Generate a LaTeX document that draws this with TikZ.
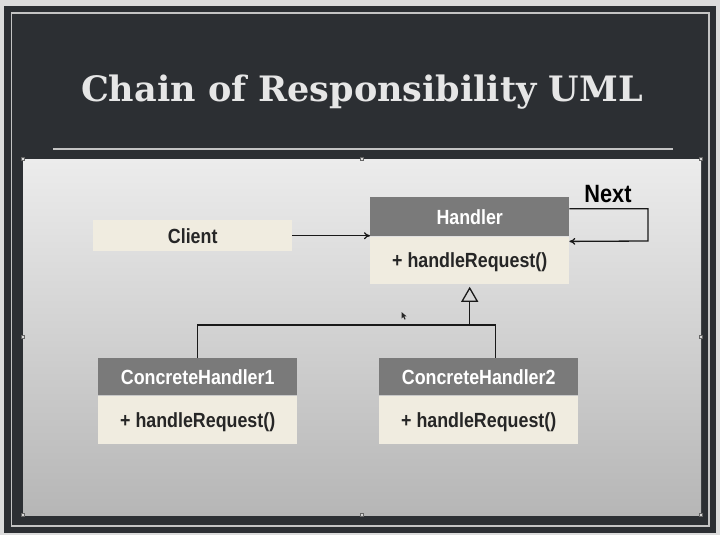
\documentclass[tikz,border=0pt]{standalone}
\usepackage{fontspec}
\usetikzlibrary{arrows.meta}
\newfontfamily\boxfont{Liberation Sans}[FakeStretch=0.87]
\newfontfamily\titlefont{DejaVu Serif}

\definecolor{outerbg}{HTML}{DCDCDC}
\definecolor{board}{HTML}{2C2F33}
\definecolor{chalk}{HTML}{C4C4C4}
\definecolor{titlecol}{HTML}{E6E6E6}
\definecolor{paneltop}{HTML}{ECECEC}
\definecolor{panelbot}{HTML}{B6B6B6}
\definecolor{hdrgray}{HTML}{7A7A7A}
\definecolor{beige}{HTML}{F0ECE0}
\definecolor{inkdark}{HTML}{262626}

\tikzset{
  hdr/.style={fill=hdrgray, text=white, anchor=north west, inner sep=0pt,
    minimum width=199pt, text height=17pt, text depth=2pt,
    font=\boxfont\bfseries\fontsize{20.5}{22}\selectfont},
  bodybox/.style={fill=beige, text=inkdark, anchor=north west, inner sep=0pt,
    minimum width=199pt, text height=17pt, text depth=2pt,
    font=\boxfont\bfseries\fontsize{20.5}{22}\selectfont},
  conn/.style={draw=black!90, line width=1.3pt},
  nextlbl/.style={text=black, inner sep=0pt, font=\boxfont\bfseries\fontsize{25}{27}\selectfont},
  handle/.style={fill=white!85!black, draw=black!60, line width=0.4pt},
}

\begin{document}
\begin{tikzpicture}[x=1pt, y=-1pt]
  \useasboundingbox (0,0) rectangle (720,535);

  % chalkboard slide frame
  \fill[outerbg] (0,0) rectangle (720,535);
  \fill[board] (4,6) rectangle (716,533);
  \draw[chalk, line width=1.5pt] (11.5,13) rectangle (709,526);

  % title and rule
  \node[text=titlecol, anchor=base, inner sep=0pt,
        font=\titlefont\bfseries\fontsize{35}{37}\selectfont] (title) at (362,101)
        {Chain of Responsibility UML};
  \draw[chalk, line width=2pt] (53,149) -- (673,149);

  % content panel
  \shade[top color=paneltop, bottom color=panelbot] (23,159) rectangle (701,515);
  \foreach \hx/\hy in {23/159, 362/159, 701/159, 23/337, 701/337, 23/515, 362/515, 701/515}
    \draw[handle] (\hx-1.6,\hy-1.6) rectangle (\hx+1.6,\hy+1.6);

  % client
  \node[bodybox, minimum height=31pt, text height=18pt, text depth=2pt] (client) at (93,220) {Client};

  % handler class
  \node[hdr, minimum height=39pt] (handlerH) at (370,197) {Handler};
  \node[bodybox, minimum height=47pt] (handlerB) at (handlerH.south west) {+ handleRequest()};

  % concrete handlers
  \node[hdr, minimum height=37pt] (ch1H) at (98,358) {ConcreteHandler1};
  \node[bodybox, minimum height=48pt] (ch1B) at (ch1H.south west) {+ handleRequest()};
  \node[hdr, minimum height=37pt] (ch2H) at (379,358) {ConcreteHandler2};
  \node[bodybox, minimum height=48pt] (ch2B) at (ch2H.south west) {+ handleRequest()};

  % client -> handler
  \draw[conn, -{To[length=6pt, width=7pt]}] (client.east) -- (client.east -| handlerH.west);

  % successor self-association
  \coordinate (nextturn) at (648,241);
  \draw[conn, -{To[length=6pt, width=7pt]}]
    ([yshift=8pt]handlerH.east) -| (nextturn) -- ([yshift=-5pt]handlerB.north east);
  \node[nextlbl] (nextlabel) at (608,194) {Next};

  % generalization
  \coordinate (join) at (handlerB.south |- 0,325);
  \draw[conn] (ch1H.north) |- ([xshift=17pt]ch2H.north |- join) -- ([xshift=17pt]ch2H.north);
  \draw[conn, shorten >=3pt, -{Triangle[open, length=15pt, width=17pt, line width=1.3pt]}]
    (join) -- (handlerB.south);

  % mouse pointer
  \fill[black!85] (401.5,312) -- (401.5,318.5) -- (403.2,316.9) -- (404.6,319.6) -- (405.6,319.1)
    -- (404.3,316.5) -- (406.5,316.3) -- cycle;
\end{tikzpicture}
\end{document}
